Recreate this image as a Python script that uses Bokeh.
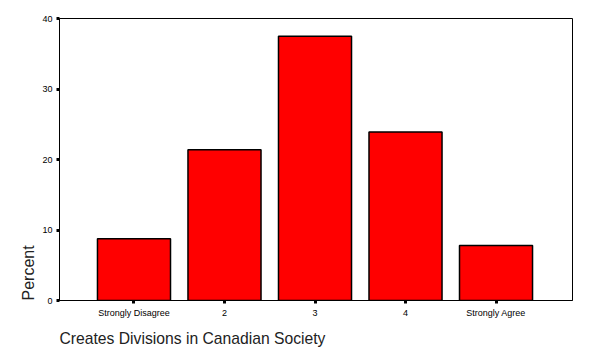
from bokeh.plotting import figure
from bokeh.models import ColumnDataSource, Range1d, FixedTicker, Title
from bokeh.embed import file_html
from bokeh.resources import INLINE

categories = ["Strongly Disagree", "2", "3", "4", "Strongly Agree"]
percent = [8.75, 21.4, 37.5, 23.9, 7.8]
y_ticks = [0, 10, 20, 30, 40]
x_title = "Creates Divisions in Canadian Society"
y_title = "Percent"

positions = list(range(1, len(categories) + 1))
source = ColumnDataSource(dict(x=positions, top=percent, cat=categories))

x_start, x_end = 0.177, 5.845
p = figure(width=590, height=354, output_backend="svg", toolbar_location=None,
           x_range=Range1d(x_start, x_end), y_range=Range1d(0, 40),
           min_border_left=59, min_border_right=18, min_border_top=18,
           min_border_bottom=54)
p.vbar(x="x", top="top", bottom=0, width=0.807, source=source,
       fill_color="#FF0000", line_color="black", line_width=1.5)

p.xgrid.visible = False
p.ygrid.visible = False
p.outline_line_color = "black"
p.outline_line_width = 1
p.outline_line_alpha = 1
p.background_fill_color = "white"
p.border_fill_color = "white"

font = "Liberation Sans"
for ax in (p.xaxis[0], p.yaxis[0]):
    ax.axis_line_color = "black"
    ax.axis_line_width = 1
    ax.major_tick_line_color = "black"
    ax.major_tick_line_width = 3
    ax.major_tick_in = 0
    ax.major_tick_out = 3
    ax.minor_tick_line_color = None
    ax.major_label_text_font = font
    ax.major_label_text_font_size = "9px"
    ax.major_label_text_color = "black"
    ax.major_label_standoff = 4

p.yaxis[0].ticker = FixedTicker(ticks=y_ticks)
p.xaxis[0].ticker = FixedTicker(ticks=positions)
p.xaxis[0].major_label_overrides = {pos: c for pos, c in zip(positions, categories)}

p.add_layout(Title(text=y_title, align="left", text_font=font,
                   text_font_size="16px", text_font_style="normal",
                   text_color="#222222", standoff=5), "left")
p.add_layout(Title(text=x_title, align="left", text_font=font,
                   text_font_size="15.7px", text_font_style="normal",
                   text_color="#222222", standoff=14), "below")

open("out.html", "w").write(file_html(p, INLINE))
